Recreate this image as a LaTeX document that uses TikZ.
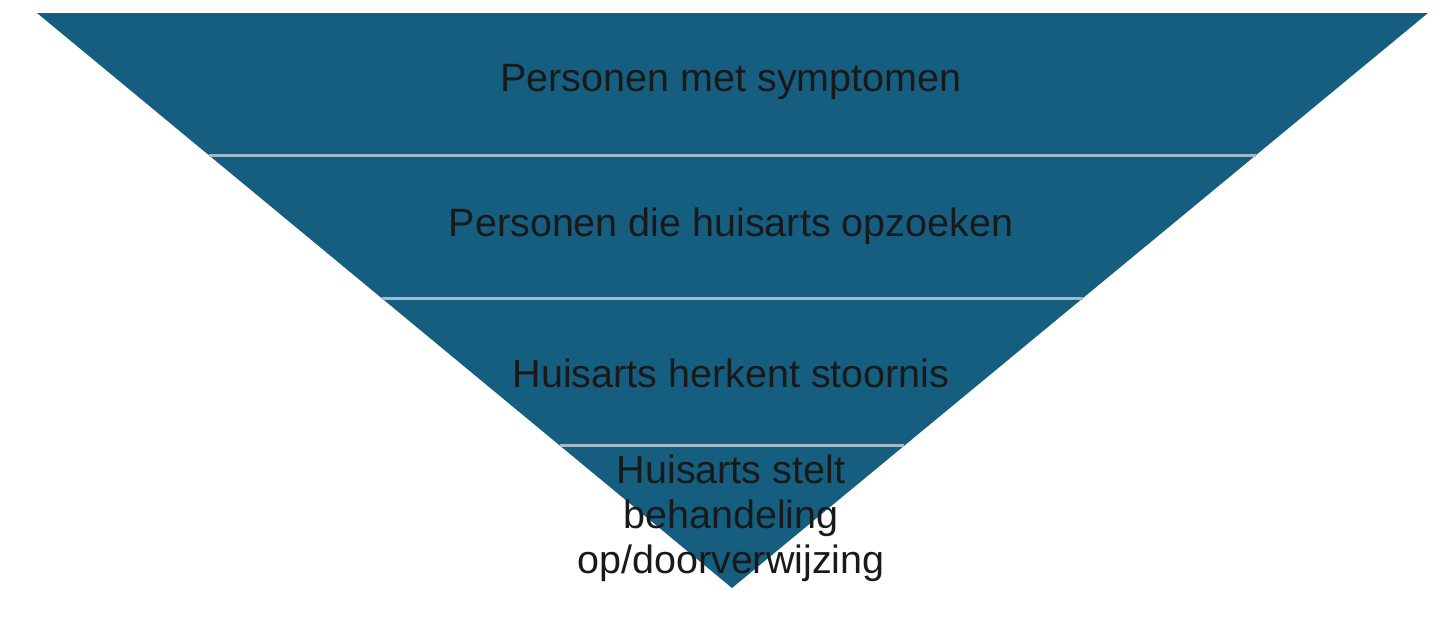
\documentclass[tikz,border=0pt]{standalone}
\usepackage{fontspec}
\setmainfont{Liberation Sans}
\usetikzlibrary{calc}
\definecolor{funnelblue}{RGB}{22,94,128}
\definecolor{splitline}{RGB}{160,186,202}
\begin{document}
\begin{tikzpicture}
          [x=1pt,y=-1pt,every node/.style={text=black!90,font=\fontsize{39.5}{45}\selectfont,align=center}]
          \useasboundingbox (0,0) rectangle (1440,624);
          \coordinate (tl) at (37,13);
          \coordinate (tr) at (1428,13);
          \coordinate (apex) at (732,588);
          \fill[funnelblue] (tl) -- (tr) -- (apex) -- cycle;

          \foreach \t/\name in {0.247/a,0.4957/b,0.753/c}
            \draw[splitline,line width=3pt] ($(tl)!\t!(apex)$) -- ($(tr)!\t!(apex)$);

          \node (symptomen) at (731,82) {Personen met symptomen};
          \node (opzoeken) at (731,226) {Personen die huisarts opzoeken};
          \node (herkent) at (731,373) {Huisarts herkent stoornis};
          \node (behandeling) at (731,518) {Huisarts stelt\\behandeling\\op/doorverwijzing};

        \end{tikzpicture}
\end{document}
